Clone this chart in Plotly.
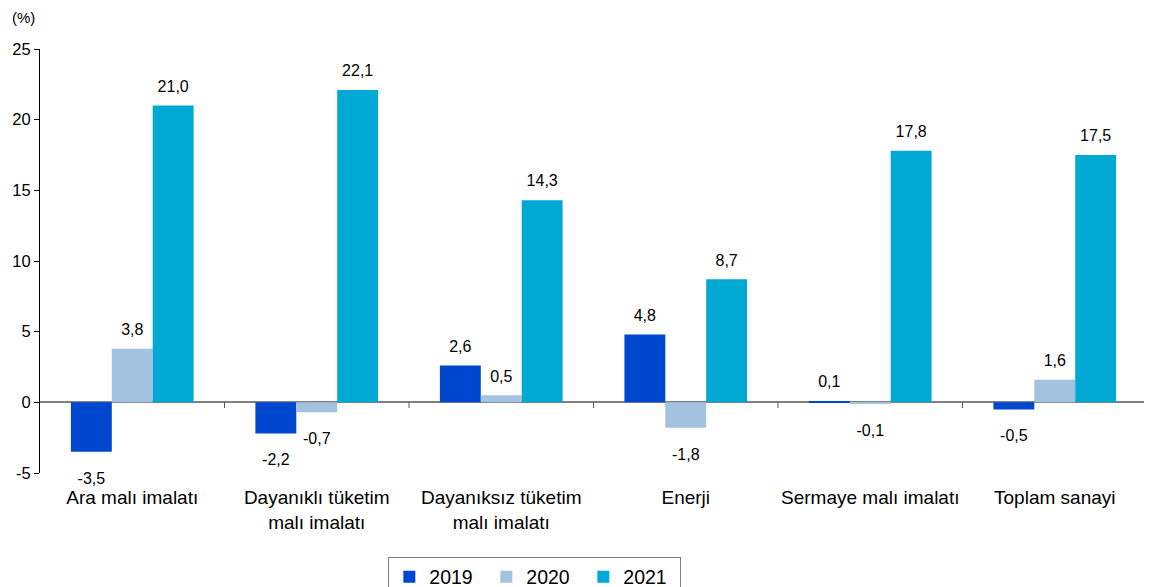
import plotly.graph_objects as go

categories = ["Ara malı imalatı", "Dayanıklı tüketim<br>malı imalatı", "Dayanıksız tüketim<br>malı imalatı",
              "Enerji", "Sermaye malı imalatı", "Toplam sanayi"]
v2019 = [-3.5, -2.2, 2.6, 4.8, 0.1, -0.5]
v2020 = [3.8, -0.7, 0.5, -1.8, -0.1, 1.6]
v2021 = [21.0, 22.1, 14.3, 8.7, 17.8, 17.5]
years = ["2019", "2020", "2021"]
colors = ["#0047CF", "#A3C2E0", "#00A9D4"]
y_ticks = [-5, 0, 5, 10, 15, 20, 25]

FONT = "Liberation Sans, Arial, sans-serif"
GAP = 0.335

def fmt(v):
    return f"{v:.1f}".replace(".", ",")

xs = list(range(len(categories)))
fig = go.Figure()
for name, vals, col in zip(years, [v2019, v2020, v2021], colors):
    fig.add_trace(go.Bar(
        x=xs, y=vals, name=name, offsetgroup=name, alignmentgroup="g",
        marker=dict(color=col, line=dict(width=0)),
        hoverinfo="skip",
    ))
for name, vals in zip(years, [v2019, v2020, v2021]):
    fig.add_trace(go.Scatter(
        x=xs, y=vals, mode="markers+text", offsetgroup=name, alignmentgroup="g",
        marker=dict(size=[14 if v > 0 else 30 for v in vals], opacity=0),
        text=[fmt(v) for v in vals],
        textposition=["top center" if v > 0 else "bottom center" for v in vals],
        textfont=dict(family=FONT, size=16, color="#000"),
        showlegend=False, cliponaxis=False, hoverinfo="skip",
    ))

shapes = []
for i in range(len(categories)):
    shapes.append(dict(type="line", xref="x", yref="y", x0=i + 0.5, x1=i + 0.5, y0=0, y1=-0.4,
                       line=dict(color="#555", width=1)))

fig.update_layout(
    width=1152, height=587,
    margin=dict(l=32, r=13, t=41, b=122, autoexpand=False),
    paper_bgcolor="white", plot_bgcolor="white",
    barmode="group", bargap=GAP, bargroupgap=0,
    scattermode="group", scattergap=GAP,
    font=dict(family=FONT, size=16, color="#000"),
    xaxis=dict(
        tickvals=xs, ticktext=categories, automargin=False,
        range=[-0.5, 5.5], showline=False, showgrid=False, zeroline=False,
        ticks="", tickfont=dict(size=19), ticklabelstandoff=11,
    ),
    yaxis=dict(
        range=[-5, 25], tickvals=y_ticks, ticktext=[str(t) for t in y_ticks], automargin=False,
        showline=True, linecolor="#000", linewidth=1, ticks="outside", ticklen=5,
        tickcolor="#000", showgrid=False, zeroline=True, zerolinecolor="#808080",
        zerolinewidth=2, tickfont=dict(size=16.5),
    ),
    shapes=shapes,
    legend=dict(orientation="h", x=0.447, xanchor="center", y=-0.197, yanchor="top",
                bordercolor="#808080", borderwidth=1, font=dict(size=19.5),
                itemwidth=30, tracegroupgap=0, entrywidth=52, entrywidthmode="pixels"),
    showlegend=True,
    annotations=[dict(text="(%)", xref="paper", yref="paper", x=-0.027, y=1.075,
                      xanchor="left", yanchor="middle", showarrow=False, font=dict(size=15))],
)

fig.write_html("out.html")
